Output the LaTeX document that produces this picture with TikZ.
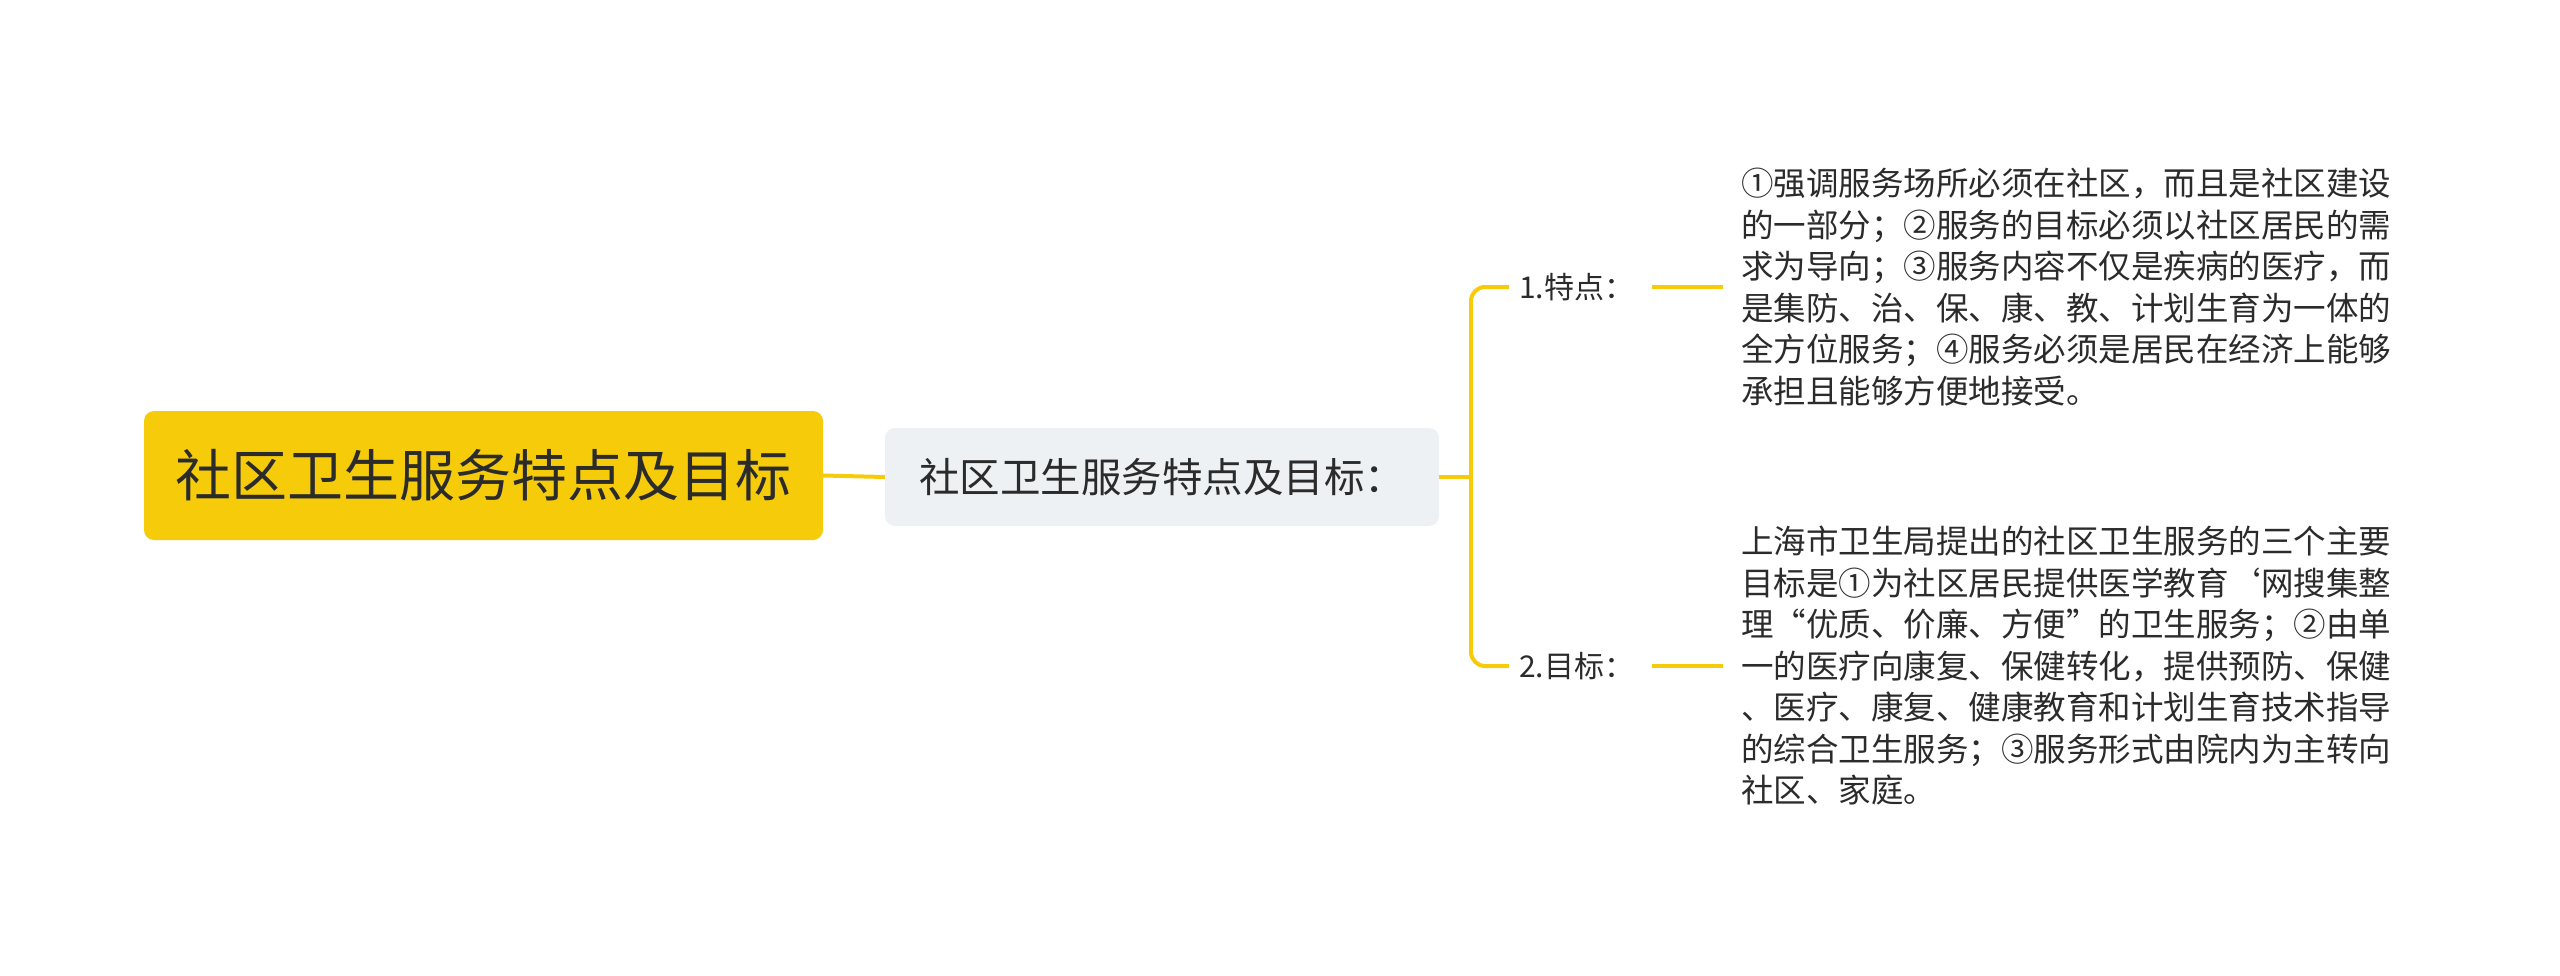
\documentclass[tikz,border=0pt]{standalone}
\usepackage{fontspec}
\setmainfont{Noto Sans CJK SC}
\definecolor{ylw}{HTML}{F5CB0A}
\definecolor{txt}{HTML}{2B2B2B}
\definecolor{subbg}{HTML}{EEF1F4}
\begin{document}
\begin{tikzpicture}[x=1pt,y=-1pt,
  conn/.style={draw=ylw,line width=4pt},
  lbl/.style={text=txt,font=\fontsize{30}{36}\selectfont,inner sep=10pt},
  para/.style={text=txt,font=\fontsize{32.5}{41.5}\selectfont,align=left,inner sep=0pt,anchor=west}]
\path[use as bounding box,fill=white] (0,0) rectangle (2560,975);
\node[fill=ylw,rounded corners=10pt,minimum width=679pt,minimum height=129pt,text=txt,font=\fontsize{56}{60}\selectfont] (root) at (483.5,475.5) {社区卫生服务特点及目标};
\node[fill=subbg,rounded corners=10pt,minimum width=554pt,minimum height=98pt,text=txt,font=\fontsize{40.5}{46}\selectfont] (sub) at (1162,477) {社区卫生服务特点及目标：};
\node[lbl,anchor=west] (l1) at (1509,287) {1.特点：};
\node[lbl,anchor=west] (l2) at (1509,666) {2.目标：};
\coordinate (bx) at (1471,477);
\node[para] (t1) at (1741,287) {①强调服务场所必须在社区，而且是社区建设\\的一部分；②服务的目标必须以社区居民的需\\求为导向；③服务内容不仅是疾病的医疗，而\\是集防、治、保、康、教、计划生育为一体的\\全方位服务；④服务必须是居民在经济上能够\\承担且能够方便地接受。};
\node[para] (t2) at (1741,666) {上海市卫生局提出的社区卫生服务的三个主要\\目标是①为社区居民提供医学教育`网搜集整\\理“优质、价廉、方便”的卫生服务；②由单\\一的医疗向康复、保健转化，提供预防、保健\\、医疗、康复、健康教育和计划生育技术指导\\的综合卫生服务；③服务形式由院内为主转向\\社区、家庭。};
\draw[conn] (root.east) -- (sub.west);
\draw[conn] (sub.east) -- (bx);
\draw[conn,rounded corners=14pt] (l1.west) -| (bx) |- (l2.west);
\draw[conn] ([xshift=8pt]l1.east) -- ([xshift=-18pt]t1.west |- l1.east);
\draw[conn] ([xshift=8pt]l2.east) -- ([xshift=-18pt]t2.west |- l2.east);
\end{tikzpicture}
\end{document}
